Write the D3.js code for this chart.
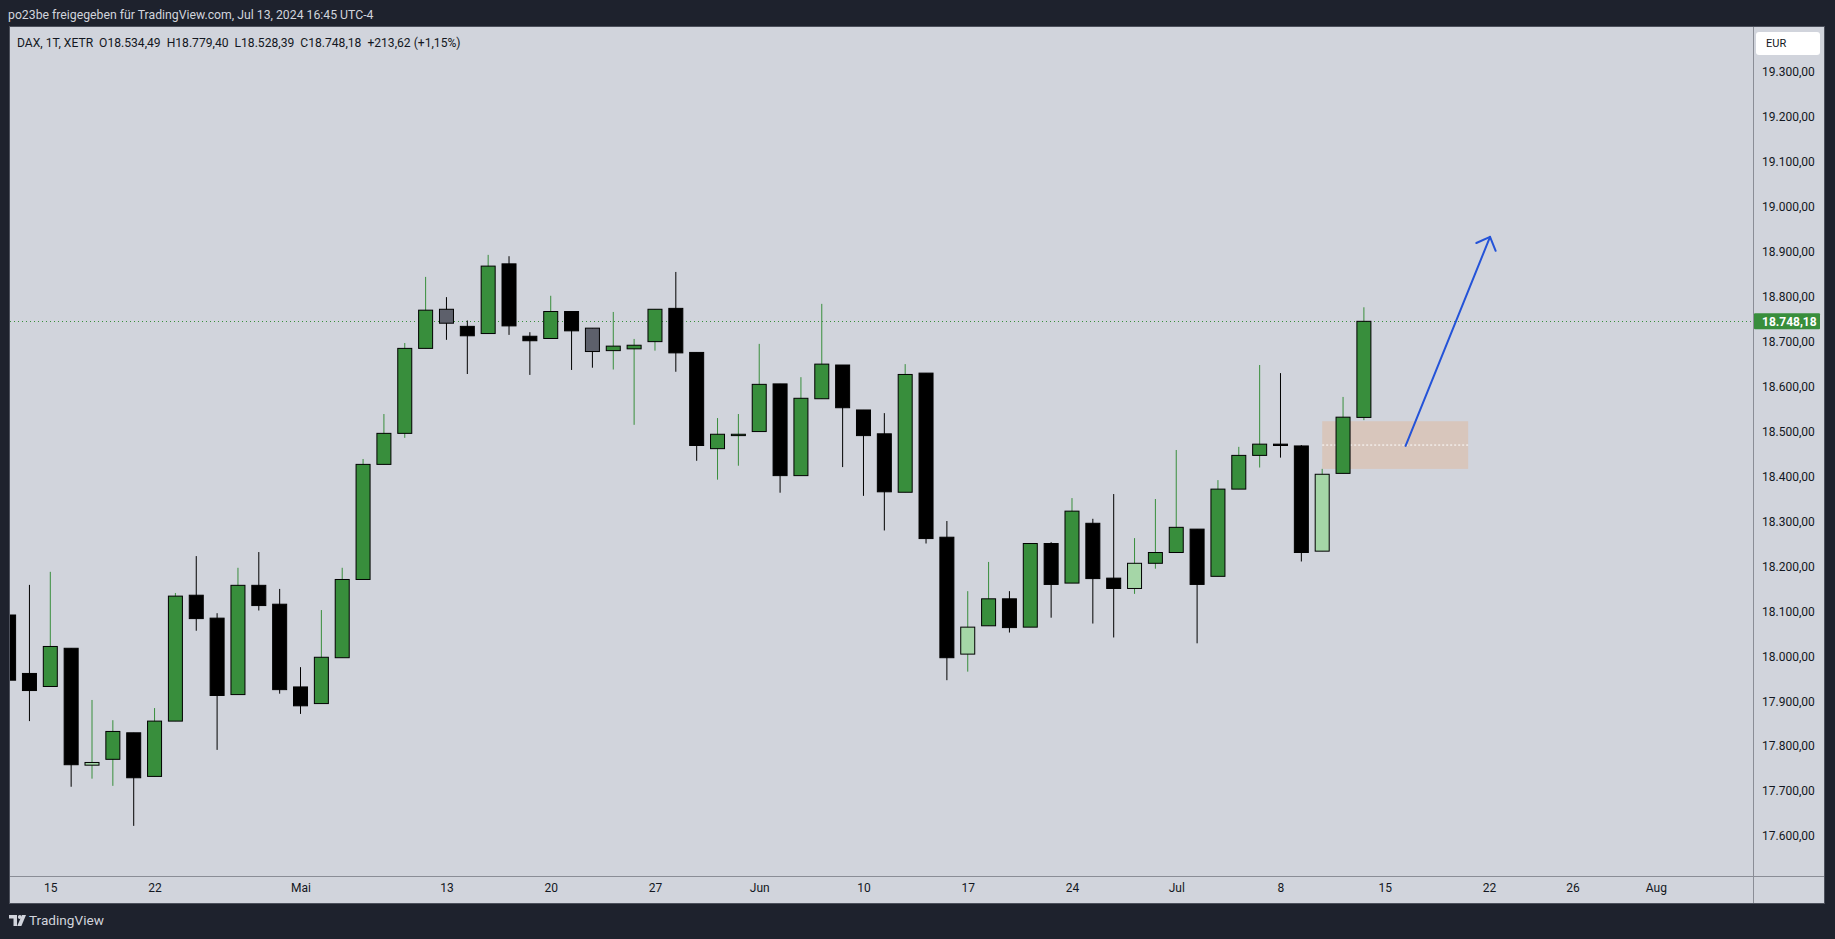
<!DOCTYPE html>
<html><head><meta charset="utf-8">
<script src="https://cdn.jsdelivr.net/npm/d3@7"></script>
<style>
html,body{margin:0;padding:0;background:#1e222d;overflow:hidden}
svg{display:block}
text{font-family:Roboto,"Liberation Sans",sans-serif}
</style></head><body>
<svg id="c" width="1835" height="939"></svg>
<script>
// ---------- data ----------
const dates = ["2024-04-11","2024-04-12","2024-04-15","2024-04-16","2024-04-17","2024-04-18","2024-04-19","2024-04-22","2024-04-23","2024-04-24","2024-04-25","2024-04-26","2024-04-29","2024-04-30","2024-05-02","2024-05-03","2024-05-06","2024-05-07","2024-05-08","2024-05-09","2024-05-10","2024-05-13","2024-05-14","2024-05-15","2024-05-16","2024-05-17","2024-05-20","2024-05-21","2024-05-22","2024-05-23","2024-05-24","2024-05-27","2024-05-28","2024-05-29","2024-05-30","2024-05-31","2024-06-03","2024-06-04","2024-06-05","2024-06-06","2024-06-07","2024-06-10","2024-06-11","2024-06-12","2024-06-13","2024-06-14","2024-06-17","2024-06-18","2024-06-19","2024-06-20","2024-06-21","2024-06-24","2024-06-25","2024-06-26","2024-06-27","2024-06-28","2024-07-01","2024-07-02","2024-07-03","2024-07-04","2024-07-05","2024-07-08","2024-07-09","2024-07-10","2024-07-11","2024-07-12"];
const futureDates = ["2024-07-15","2024-07-16","2024-07-17","2024-07-18","2024-07-19","2024-07-22","2024-07-23","2024-07-24","2024-07-25","2024-07-26","2024-07-29","2024-07-30","2024-07-31","2024-08-01","2024-08-02"];
const openP  = [18095,17965,17936,18021,17761,17774,17833,17736,17859,18139,18088,17918,18161,18119,17935,17898,18000,18174,18430,18499,18688,18775,18737,18721,18876,18715,18710,18770,18733,18683,18687,18703,18777,18679,18465,18494,18503,18609,18405,18576,18651,18551,18498,18368,18633,18268,18008,18071,18131,18068,18254,18166,18299,18177,18154,18210,18234,18286,18181,18375,18450,18475,18471,18237,18410,18534.49];
const highP  = [18110,18162,18191,18021,17906,17861,17833,17888,18144,18226,18099,18200,18235,18153,17979,18106,18200,18442,18542,18700,18847,18802,18750,18896,18893,18724,18805,18770,18733,18769,18709,18775,18858,18679,18533,18542,18698,18609,18624,18787,18651,18551,18544,18653,18633,18304,18148,18213,18148,18254,18257,18355,18309,18364,18266,18353,18462,18286,18395,18469,18651,18633,18473,18420,18580,18779.40];
const lowP   = [17930,17859,17936,17713,17731,17715,17626,17736,17859,18060,17795,17918,18105,17920,17875,17898,18000,18174,18430,18489,18688,18707,18631,18721,18718,18629,18710,18640,18645,18641,18518,18683,18636,18438,18396,18427,18503,18367,18405,18576,18424,18360,18283,18368,18254,17950,17969,18071,18056,18068,18089,18166,18076,18045,18142,18198,18234,18032,18181,18375,18423,18445,18214,18237,18410,18528.39];
const closeP = [17950,17927,18025,17762,17767,17836,17733,17859,18137,18087,17916,18161,18116,17929,17893,18001,18174,18430,18499,18688,18773,18744,18716,18871,18738,18705,18770,18727,18681,18693,18695,18775,18678,18472,18497,18497,18608,18405,18577,18653,18556,18494,18369,18630,18265,18000,18068,18131,18067,18254,18163,18326,18176,18154,18210,18234,18290,18163,18375,18450,18475,18472,18234,18408,18535,18748.18];
const kind = ["down","down","up","down","upLight","up","down","up","up","down","down","up","down","down","down","up","up","up","up","up","up","downGray","down","up","down","down","up","down","downGray","up","up","up","down","down","up","up","up","down","up","up","down","down","down","up","down","down","upLight","up","down","up","down","up","down","down","upLight","up","up","down","up","up","up","down","down","upLight","up","up"];

const tickDates  = ["2024-04-15","2024-04-22","2024-05-02","2024-05-13","2024-05-20","2024-05-27","2024-06-03","2024-06-10","2024-06-17","2024-06-24","2024-07-01","2024-07-08","2024-07-15","2024-07-22","2024-07-26","2024-08-01"];
const tickLabels = ["15","22","Mai","13","20","27","Jun","10","17","24","Jul","8","15","22","26","Aug"];
const priceTicks = [17600,17700,17800,17900,18000,18100,18200,18300,18400,18500,18600,18700,18800,18900,19000,19100,19200,19300];

// annotations (drawings)
const boxDates = ["2024-07-10","2024-07-19"];
const boxPrices = [18420, 18526];
const boxMidPrice = 18473;
const arrowIdx = [67.0, 71.05];
const arrowPrice = [18471, 18936];

const headerText = "po23be freigegeben für TradingView.com, Jul 13, 2024 16:45 UTC-4";
const legendText = "DAX, 1T, XETR  O18.534,49  H18.779,40  L18.528,39  C18.748,18  +213,62 (+1,15%)";

// ---------- layout ----------
const W = 1835, H = 939;
const P = {l:10, r:1753, t:27, b:876};   // plot area
const panel = {l:10, r:1824, t:27, b:903};
const COL = {bg:"#1e222d", pane:"#d1d4dc", up:"#388e3c", down:"#000000", upLight:"#a5d6a7", downGray:"#5d606b", text:"#131722", line:"#8a8d96", arrow:"#2453d8"};

const allDates = dates.concat(futureDates);
const svg = d3.select("#c");

const x = d3.scaleLinear().domain([0, 65]).range([8.6, 1363.9]);
const y = d3.scaleLinear().domain([17514.5, 19402.8]).range([P.b, P.t]);
const loc = d3.formatLocale({decimal:",", thousands:".", grouping:[3], currency:["","€"]});
const fmt = loc.format(",.2f");

svg.append("rect").attr("width",W).attr("height",H).attr("fill",COL.bg);
svg.append("rect").attr("x",panel.l).attr("y",panel.t).attr("width",panel.r-panel.l).attr("height",panel.b-panel.t)
   .attr("fill",COL.pane);

const defs = svg.append("defs");
defs.append("clipPath").attr("id","clip").append("rect")
   .attr("x",P.l).attr("y",P.t).attr("width",P.r-P.l).attr("height",P.b-P.t);

const plot = svg.append("g").attr("clip-path","url(#clip)");

// box drawing
const bi0 = allDates.indexOf(boxDates[0]), bi1 = allDates.indexOf(boxDates[1]);
plot.append("rect")
  .attr("x", x(bi0)).attr("width", x(bi1)-x(bi0))
  .attr("y", y(boxPrices[1])).attr("height", y(boxPrices[0])-y(boxPrices[1]))
  .attr("fill","#d8c6bc");
plot.append("line")
  .attr("x1", x(bi0)).attr("x2", x(bi1))
  .attr("y1", y(boxMidPrice)).attr("y2", y(boxMidPrice))
  .attr("stroke","#ffffff").attr("stroke-width",1).attr("stroke-dasharray","2,2");

// last price dotted line
const lastClose = closeP[closeP.length-1];
plot.append("line").attr("x1",P.l).attr("x2",P.r)
  .attr("y1",Math.round(y(lastClose))+0.5).attr("y2",Math.round(y(lastClose))+0.5)
  .attr("stroke",COL.up).attr("stroke-width",1).attr("stroke-dasharray","1,3");

// candles
const idx = d3.range(dates.length);
const wickCol = k => (k==="up"||k==="upLight") ? COL.up : COL.down;
const bw = 14;
plot.append("g").selectAll("line").data(idx).join("line")
  .attr("x1", i => x(i)).attr("x2", i => x(i))
  .attr("y1", i => y(highP[i])).attr("y2", i => y(lowP[i]))
  .attr("stroke", i => wickCol(kind[i])).attr("stroke-width",1);
plot.append("g").selectAll("rect").data(idx).join("rect")
  .attr("x", i => x(i)-bw/2).attr("width", bw)
  .attr("y", i => Math.min(y(openP[i]), y(closeP[i])))
  .attr("height", i => Math.max(1, Math.abs(y(openP[i])-y(closeP[i]))))
  .attr("fill", i => COL[kind[i]])
  .attr("stroke","#000").attr("stroke-width",1);

// arrow drawing
const ax0 = x(arrowIdx[0]), ay0 = y(arrowPrice[0]), ax1 = x(arrowIdx[1]), ay1 = y(arrowPrice[1]);
const ang = Math.atan2(ay0-ay1, ax0-ax1);
const hl = 15, spread = 44*Math.PI/180;
const ag = plot.append("g").attr("stroke",COL.arrow).attr("stroke-width",2).attr("stroke-linecap","round").attr("fill","none");
ag.append("line").attr("x1",ax0).attr("y1",ay0).attr("x2",ax1).attr("y2",ay1);
ag.append("path").attr("d",
  `M${ax1+hl*Math.cos(ang+spread)},${ay1+hl*Math.sin(ang+spread)} L${ax1},${ay1} L${ax1+hl*Math.cos(ang-spread)},${ay1+hl*Math.sin(ang-spread)}`)
  .attr("stroke-linejoin","round");

// dividers
svg.append("line").attr("x1",P.r+0.5).attr("x2",P.r+0.5).attr("y1",panel.t).attr("y2",panel.b).attr("stroke",COL.line);
svg.append("line").attr("x1",panel.l).attr("x2",panel.r).attr("y1",P.b+0.5).attr("y2",P.b+0.5).attr("stroke",COL.line);
svg.append("rect").attr("x",panel.l-0.5).attr("y",panel.t-0.5).attr("width",panel.r-panel.l+1).attr("height",panel.b-panel.t+1)
  .attr("fill","none").attr("stroke","#4c505b").attr("stroke-width",1);

// y axis
const yAxis = d3.axisRight(y).tickValues(priceTicks).tickFormat(fmt).tickSize(0).tickPadding(9);
const gy = svg.append("g").attr("transform",`translate(${P.r},-1.5)`).call(yAxis);
gy.select(".domain").remove();
gy.selectAll("text").attr("fill",COL.text).style("font-size","12px").style("font-family","Roboto, sans-serif");

// x axis
const xAxis = d3.axisBottom(x).tickValues(tickDates.map(d => allDates.indexOf(d)))
  .tickFormat((d,i) => tickLabels[i]).tickSize(0).tickPadding(7);
const gx = svg.append("g").attr("transform",`translate(0,${P.b})`).call(xAxis);
gx.select(".domain").remove();
gx.selectAll("text").attr("fill",COL.text).style("font-size","12px").style("font-family","Roboto, sans-serif");

// price label
const ly = y(lastClose);
svg.append("rect").attr("x",P.r+1).attr("y",ly-8).attr("width",66).attr("height",16).attr("rx",1).attr("fill",COL.up);
svg.append("text").attr("x",P.r+9).attr("y",ly).attr("dy","0.35em").attr("fill","#fff")
  .style("font-size","12px").style("font-weight","bold").text(fmt(lastClose));

// EUR box
svg.append("rect").attr("x",1756).attr("y",32).attr("width",64).attr("height",23).attr("rx",3).attr("fill","#ffffff");
svg.append("text").attr("x",1766).attr("y",43.5).attr("dy","0.35em").attr("fill",COL.text).style("font-size","11px").text("EUR");

// header & legend with fitted widths
function fitText(sel, target){
  const n = sel.node(); const fs = parseFloat(sel.style("font-size"));
  const w = n.getComputedTextLength(); if (w>0) sel.style("font-size", (fs*target/w)+"px");
}
const hdr = svg.append("text").attr("x",8).attr("y",15).attr("dy","0.35em").attr("fill","#d1d4dc")
  .style("font-size","13px").text(headerText);
fitText(hdr, 366);
const lg = svg.append("text").attr("x",17).attr("y",43).attr("dy","0.35em").attr("fill",COL.text)
  .style("font-size","12px").style("white-space","pre").attr("xml:space","preserve").text(legendText);
fitText(lg, 444);

// footer logo
const fg = svg.append("g").attr("fill","#d1d4dc");
fg.append("path").attr("d","M9 915 h8 v11 h-3.5 v-7.5 h-4.5 z");
fg.append("circle").attr("cx",19.8).attr("cy",917).attr("r",1.9);
fg.append("path").attr("d","M22 915 h4 l-4.6 11 h-4.2 z");
const ft = fg.append("text").attr("x",29).attr("y",920.5).attr("dy","0.35em").style("font-size","13px").text("TradingView");
fitText(ft, 75);
</script>
</body></html>
